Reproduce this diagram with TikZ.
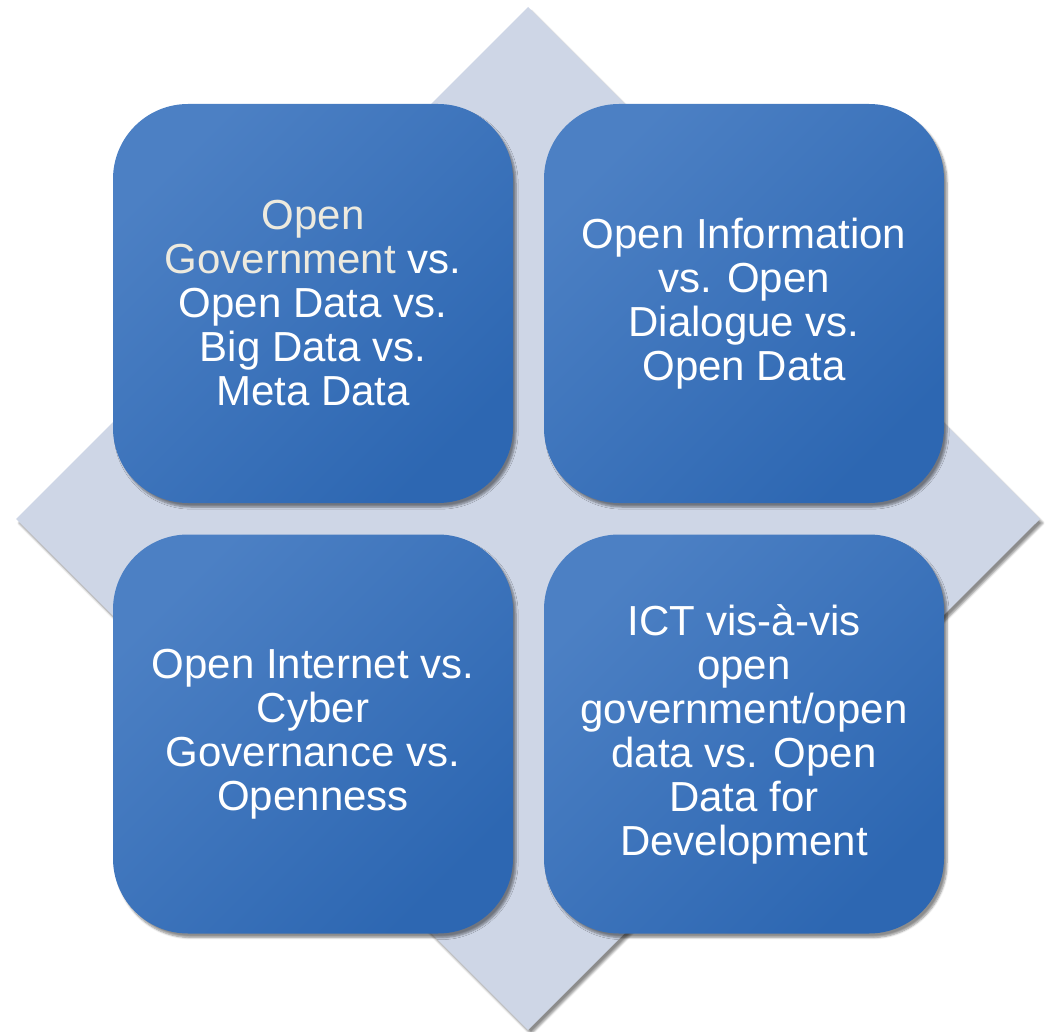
\documentclass[tikz,border=0pt]{standalone}
\usepackage{fontspec}
\setmainfont{Liberation Sans}
\usetikzlibrary{shadows.blur}
\definecolor{diamondfill}{HTML}{CED6E6}
\definecolor{boxA}{HTML}{4C80C4}
\definecolor{boxB}{HTML}{367ACC}
\definecolor{boxC}{HTML}{2D67B2}
\definecolor{cream}{HTML}{EDEADE}
\tikzset{
  quadbox/.style={rectangle, rounded corners=75pt, minimum width=400pt, minimum height=399pt,
    inner sep=0pt, top color=boxA, middle color=boxB, bottom color=boxC, shading angle=45,
    blur shadow={shadow xshift=3pt, shadow yshift=-4pt, shadow blur steps=6, shadow opacity=45},
    text=white, align=center, font=\fontsize{42}{44}\selectfont},
  bgshape/.style={fill=diamondfill,
    blur shadow={shadow xshift=3pt, shadow yshift=-4pt, shadow blur steps=6, shadow opacity=45}}
}
\begin{document}
\begin{tikzpicture}[x=1pt,y=-1pt]
\useasboundingbox (0,0) rectangle (1045,1032);
\coordinate (dt) at (528,7);
\coordinate (dr) at (1040,519);
\coordinate (db) at (528,1030);
\coordinate (dl) at (16,519);
\path[bgshape] (dt) -- (dr) -- (db) -- (dl) -- cycle;
\node[quadbox] (tl) at (313,303.5) {{\color{cream}Open}\\{\color{cream}Government} vs.\\Open Data vs.\\Big Data vs.\\Meta Data};
\node[quadbox] (tr) at (744,303.5) {Open Information\\vs. Open\\Dialogue vs.\\Open Data};
\node[quadbox] (bl) at (313,734) {Open Internet vs.\\Cyber\\Governance vs.\\Openness};
\node[quadbox] (br) at (744,734) {ICT vis-à-vis\\open\\government/open\\data vs. Open\\Data for\\Development};
\end{tikzpicture}
\end{document}
